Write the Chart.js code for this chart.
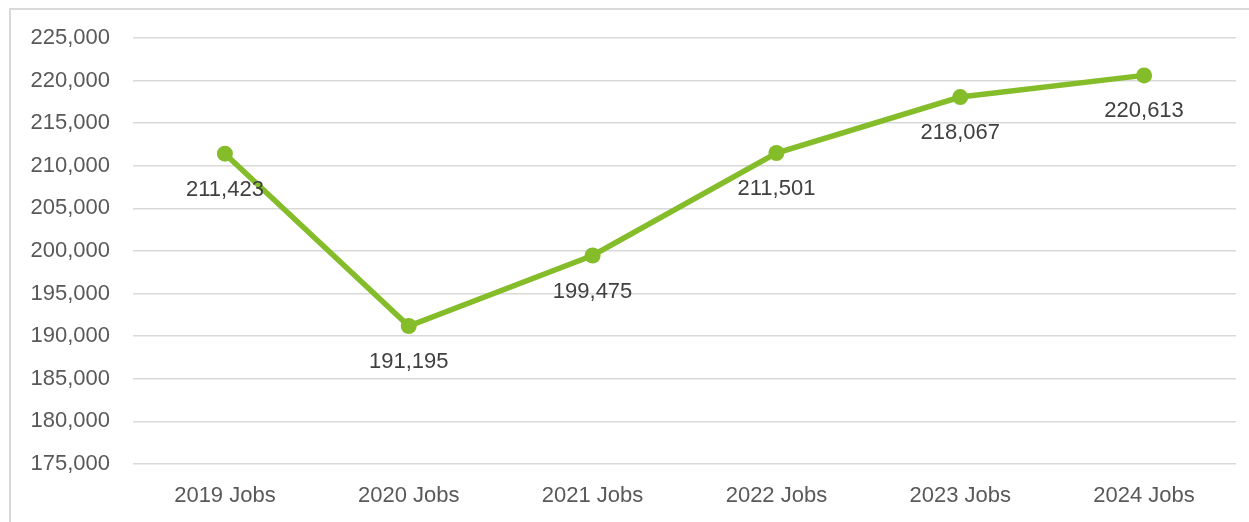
<!DOCTYPE html>
<html>
<head>
<meta charset="utf-8">
<script src="https://cdn.jsdelivr.net/npm/chart.js@4"></script>
<style>
  html, body { margin: 0; padding: 0; background: #fff; overflow: hidden; }
  #frame {
    position: absolute; left: 9px; top: 8px;
    width: 1240px; height: 514px;
    border-left: 2px solid #d9d9d9; border-top: 2px solid #d9d9d9;
  }
  #jobsChart { display: block; }
</style>
</head>
<body>
<div id="frame"><canvas id="jobsChart" width="1238" height="512"></canvas></div>
<script>
const years = ['2019 Jobs', '2020 Jobs', '2021 Jobs', '2022 Jobs', '2023 Jobs', '2024 Jobs'];
const jobs = [211423, 191195, 199475, 211501, 218067, 220613];
const yMin = 175000;
const yMax = 225000;
const yStep = 5000;

const fontFamily = '"Liberation Sans", Arial, sans-serif';
const green = '#84BC2A';

// writes the value under each point
const valueLabels = {
  id: 'valueLabels',
  afterDatasetsDraw(chart) {
    const ctx = chart.ctx;
    const meta = chart.getDatasetMeta(0);
    ctx.save();
    ctx.font = '22px ' + fontFamily;
    ctx.fillStyle = '#404040';
    ctx.textAlign = 'center';
    ctx.textBaseline = 'middle';
    meta.data.forEach((pt, i) => {
      ctx.fillText(jobs[i].toLocaleString('en-US'), pt.x, pt.y + 36);
    });
    ctx.restore();
  }
};

new Chart(document.getElementById('jobsChart').getContext('2d'), {
  type: 'line',
  data: {
    labels: years,
    datasets: [{
      data: jobs,
      borderColor: green,
      backgroundColor: green,
      borderWidth: 5.5,
      pointRadius: 8,
      pointHoverRadius: 8,
      pointBorderWidth: 0,
      tension: 0,
      fill: false
    }]
  },
  options: {
    responsive: false,
    animation: false,
    layout: { padding: { top: 28, right: 13, left: 0, bottom: 0 } },
    plugins: { legend: { display: false }, tooltip: { enabled: false } },
    scales: {
      x: {
        offset: true,
        grid: { display: false, drawTicks: false },
        border: { display: false },
        ticks: { color: '#595959', font: { family: fontFamily, size: 22 }, padding: 19 },
        afterFit(scale) { scale.height = 58; }
      },
      y: {
        min: yMin,
        max: yMax,
        grid: { color: '#d9d9d9', lineWidth: 1.5, drawTicks: false },
        border: { display: false },
        ticks: {
          stepSize: yStep,
          color: '#595959',
          font: { family: fontFamily, size: 22 },
          padding: 23,
          callback: v => v.toLocaleString('en-US')
        },
        afterFit(scale) {
          scale.width = 122;
          scale.paddingTop = 0;
          scale.paddingBottom = 0;
        }
      }
    }
  },
  plugins: [valueLabels]
});
</script>
</body>
</html>
